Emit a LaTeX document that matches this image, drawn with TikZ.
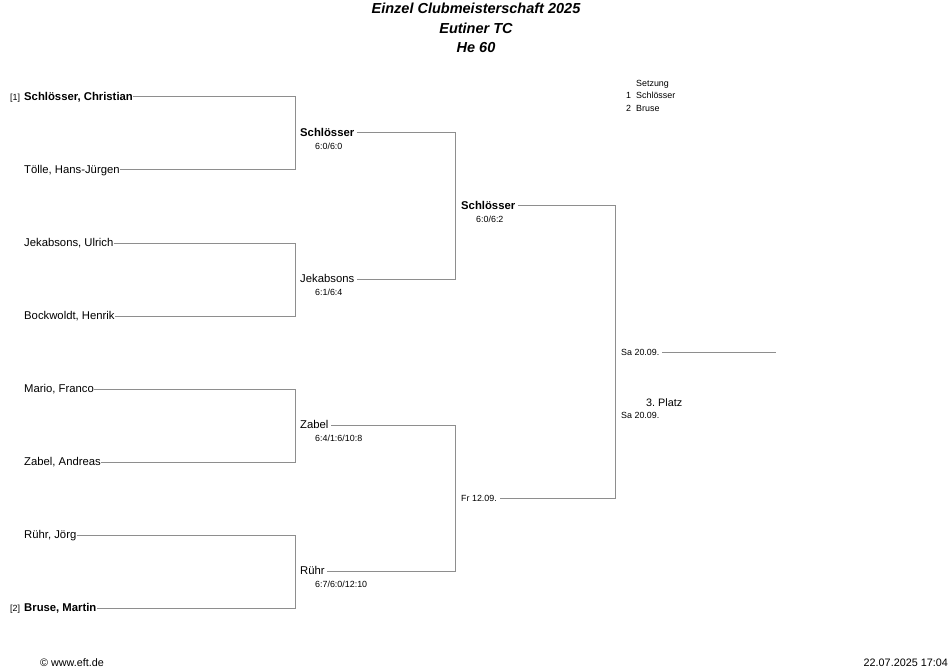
\documentclass[tikz,border=0pt]{standalone}
\usepackage{fontspec}
\setmainfont{Liberation Sans}
\definecolor{lgray}{HTML}{8E8E8E}
\begin{document}
\begin{tikzpicture}[x=1pt,y=-1pt,
  line/.style={draw=lgray,line width=1pt},
  ttl/.style={anchor=center,inner sep=0pt,font=\fontsize{14.5}{16}\selectfont\bfseries\itshape},
  pname/.style={anchor=mid west,inner sep=0pt,yshift=-1pt,font=\fontsize{11.3}{13}\selectfont},
  wname/.style={anchor=mid west,inner xsep=2.5pt,inner ysep=0pt,yshift=-1pt,font=\fontsize{11.3}{13}\selectfont},
  sname/.style={anchor=mid west,inner xsep=2.5pt,inner ysep=0pt,yshift=-1pt,font=\fontsize{8.9}{10}\selectfont},
  score/.style={anchor=mid west,inner sep=0pt,yshift=-0.7pt,font=\fontsize{8.9}{10}\selectfont},
  seed/.style={anchor=mid west,inner sep=0pt,yshift=-0.7pt,font=\fontsize{8.9}{10}\selectfont},
  foot/.style={inner sep=0pt,font=\fontsize{10.8}{12}\selectfont}]
\useasboundingbox (0,0) rectangle (950,671);

% title
\node[ttl] (t1) at (476,8) {Einzel Clubmeisterschaft 2025};
\node[ttl] (t2) at (476,28) {Eutiner TC};
\node[ttl] (t3) at (476,48) {He 60};

% seeding list
\node[seed] (sz) at (636,83) {Setzung};
\node[seed] (sz1n) at (626,95) {1};
\node[seed] (sz1) at (636,95) {Schlösser};
\node[seed] (sz2n) at (626,108) {2};
\node[seed] (sz2) at (636,108) {Bruse};

% bracket x positions
\coordinate (bx1) at (295,0);
\coordinate (bx2) at (455,0);
\coordinate (bx3) at (615,0);

% round 1
\node[seed] (sd1) at (10,97) {[1]};
\node[pname] (p1) at (24,97) {\bfseries Schlösser, Christian};
\node[pname] (p2) at (24,170) {Tölle, Hans-Jürgen};
\node[pname] (p3) at (24,243) {Jekabsons, Ulrich};
\node[pname] (p4) at (24,316) {Bockwoldt, Henrik};
\node[pname] (p5) at (24,389) {Mario, Franco};
\node[pname] (p6) at (24,462) {Zabel, Andreas};
\node[pname] (p7) at (24,535) {Rühr, Jörg};
\node[seed] (sd2) at (10,608) {[2]};
\node[pname] (p8) at (24,608) {\bfseries Bruse, Martin};

\draw[line] ([yshift=1pt]p1.mid east) -- ([yshift=1pt]p1.mid east -| bx1) -- ([yshift=1pt]p2.mid east -| bx1) -- ([yshift=1pt]p2.mid east);
\draw[line] ([yshift=1pt]p3.mid east) -- ([yshift=1pt]p3.mid east -| bx1) -- ([yshift=1pt]p4.mid east -| bx1) -- ([yshift=1pt]p4.mid east);
\draw[line] ([yshift=1pt]p5.mid east) -- ([yshift=1pt]p5.mid east -| bx1) -- ([yshift=1pt]p6.mid east -| bx1) -- ([yshift=1pt]p6.mid east);
\draw[line] ([yshift=1pt]p7.mid east) -- ([yshift=1pt]p7.mid east -| bx1) -- ([yshift=1pt]p8.mid east -| bx1) -- ([yshift=1pt]p8.mid east);

% round 2
\node[wname] (w1) at (297.5,133) {\bfseries Schlösser};
\node[score] (r1) at (315,146) {6:0/6:0};
\node[wname] (w2) at (297.5,279) {Jekabsons};
\node[score] (r2) at (315,292) {6:1/6:4};
\node[wname] (w3) at (297.5,425) {Zabel};
\node[score] (r3) at (315,438) {6:4/1:6/10:8};
\node[wname] (w4) at (297.5,571) {Rühr};
\node[score] (r4) at (315,584) {6:7/6:0/12:10};

\draw[line] ([yshift=1pt]w1.mid east) -- ([yshift=1pt]w1.mid east -| bx2) -- ([yshift=1pt]w2.mid east -| bx2) -- ([yshift=1pt]w2.mid east);
\draw[line] ([yshift=1pt]w3.mid east) -- ([yshift=1pt]w3.mid east -| bx2) -- ([yshift=1pt]w4.mid east -| bx2) -- ([yshift=1pt]w4.mid east);

% round 3
\node[wname] (s1) at (458.5,206) {\bfseries Schlösser};
\node[score] (r5) at (476,219) {6:0/6:2};
\node[sname] (s2) at (458.5,498) {Fr 12.09.};
\draw[line] ([yshift=1pt]s1.mid east) -- ([yshift=1pt]s1.mid east -| bx3) -- ([yshift=1pt]s2.mid east -| bx3) -- ([yshift=1pt]s2.mid east);

% final
\node[sname] (f1) at (618.5,352) {Sa 20.09.};
\coordinate (fend) at (776,352);
\draw[line] ([yshift=1pt]f1.mid east) -- (fend);

% third place
\node[anchor=mid west,inner sep=0pt,yshift=-1pt,font=\fontsize{10.8}{12}\selectfont] (pl3) at (646,403) {3.\ Platz};
\node[score] (pl3d) at (621,415) {Sa 20.09.};

% footer
\node[foot,anchor=mid west] (ft1) at (40,664) {© www.eft.de};
\node[foot,anchor=mid east] (ft2) at (948,664) {22.07.2025 17:04};
\end{tikzpicture}
\end{document}
